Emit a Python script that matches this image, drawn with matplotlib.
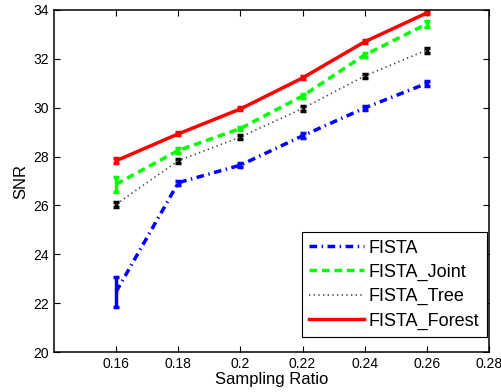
import matplotlib
matplotlib.use("Agg")
from matplotlib import pyplot as plt
import numpy as np

plt.rcParams['font.family'] = ['Liberation Sans', 'DejaVu Sans']

ratio = [0.16, 0.18, 0.20, 0.22, 0.24, 0.26]

fista = [22.47, 26.93, 27.65, 28.85, 29.99, 31.0]
fista_err = [0.61, 0.08, 0.08, 0.1, 0.08, 0.1]
joint = [26.87, 28.25, 29.15, 30.48, 32.16, 33.43]
joint_err = [0.3, 0.1, 0.08, 0.1, 0.08, 0.12]
tree = [26.05, 27.83, 28.8, 29.97, 31.3, 32.36]
tree_err = [0.1, 0.08, 0.08, 0.1, 0.08, 0.1]
forest = [27.83, 28.93, 29.95, 31.22, 32.7, 33.88]
forest_err = [0.1, 0.06, 0.06, 0.06, 0.06, 0.06]

fig = plt.figure(figsize=(5.02, 3.92), dpi=100)
ax = fig.add_axes([0.1076, 0.102, 0.8665, 0.8725])

# dashes get scaled by the line width
common = dict(capsize=2, elinewidth=2.5, capthick=2.5)
l1 = ax.errorbar(ratio, fista, yerr=fista_err, color='#0000ff', lw=2.5,
                 label='FISTA', **common)
l1[0].set_dashes([2.2, 1.3, 0.4, 1.3])
l2 = ax.errorbar(ratio, joint, yerr=joint_err, color='#00ff00', lw=2.5,
                 label='FISTA_Joint', **common)
l2[0].set_dashes([2.2, 1.4])
l3 = ax.errorbar(ratio, tree, yerr=tree_err, color='black', lw=1.2,
                 label='FISTA_Tree', **common)
l3[0].set_color('#444444')
l3[0].set_dashes([0.8, 2.0])
ax.errorbar(ratio, forest, yerr=forest_err, color='#ff0000', linestyle='-', lw=2.5,
            label='FISTA_Forest', **common)

ax.set_xlim(0.14, 0.28)
ax.set_ylim(20, 34)
ax.set_xticks([0.16, 0.18, 0.2, 0.22, 0.24, 0.26, 0.28])
ax.set_xticklabels(['0.16', '0.18', '0.2', '0.22', '0.24', '0.26', '0.28'])
ax.set_yticks(np.arange(20, 35, 2))
ax.tick_params(direction='in', labelsize=10, top=True, right=True, length=4)
for s in ax.spines.values():
    s.set_linewidth(1.1)
ax.set_xlabel('Sampling Ratio', fontsize=12, labelpad=1)
ax.set_ylabel('SNR', fontsize=12, labelpad=4)

handles, labels = ax.get_legend_handles_labels()
handles = [h[0] for h in handles]
leg = ax.legend(handles, labels, loc='lower right', fontsize=13, fancybox=False,
                framealpha=1, edgecolor='black', handlelength=3.0,
                borderpad=0.4, labelspacing=0.4, handletextpad=0.3,
                borderaxespad=0, bbox_to_anchor=(0.995, 0.044))
leg.get_frame().set_linewidth(0.8)

fig.savefig('out.png', dpi=100)
